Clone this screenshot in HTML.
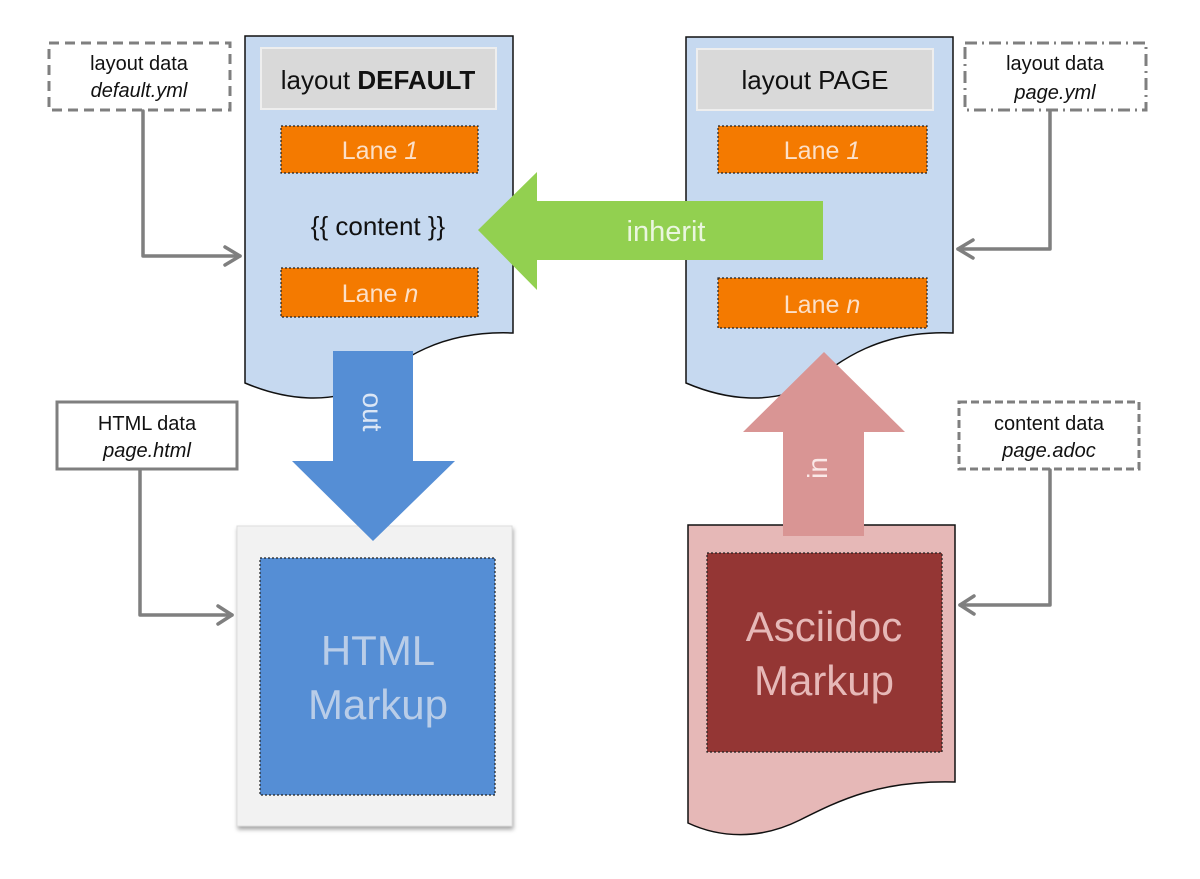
<!DOCTYPE html>
<html><head><meta charset="utf-8"><style>
html,body{margin:0;padding:0;background:#fff;}
svg{display:block;font-family:"Liberation Sans",Roboto,sans-serif;}
</style></head><body>
<svg width="1200" height="879" viewBox="0 0 1200 879" xmlns="http://www.w3.org/2000/svg">
<defs>
<filter id="sh" x="-10%" y="-10%" width="130%" height="130%"><feDropShadow dx="1" dy="3" stdDeviation="2" flood-color="#000" flood-opacity="0.35"/></filter>
</defs>
<path d="M245,36 L513,36 L513,333 C440,330 400,360 370,385 C330,405 285,400 245,383 Z" fill="#c6d9f0" stroke="#111" stroke-width="1.5"/>
<rect x="261" y="48" width="235" height="61" fill="#d9d9d9" stroke="#eee" stroke-width="2"/>
<text x="378" y="89" font-size="26" text-anchor="middle" fill="#111">layout <tspan font-weight="bold">DEFAULT</tspan></text>
<rect x="281" y="126" width="197" height="47" fill="#f47a00" stroke="#222" stroke-width="1.2" stroke-dasharray="2,2"/>
<text x="380" y="159" font-size="25" text-anchor="middle" fill="#fce0c8">Lane <tspan font-style="italic">1</tspan></text>
<text x="378" y="235" font-size="26" text-anchor="middle" fill="#111">{{ content }}</text>
<rect x="281" y="268" width="197" height="49" fill="#f47a00" stroke="#222" stroke-width="1.2" stroke-dasharray="2,2"/>
<text x="380" y="302" font-size="25" text-anchor="middle" fill="#fce0c8">Lane <tspan font-style="italic">n</tspan></text>

<path d="M686,37 L953,37 L953,333 C880,330 840,360 810,385 C770,405 726,400 686,383 Z" fill="#c6d9f0" stroke="#111" stroke-width="1.5"/>
<rect x="697" y="49" width="236" height="61" fill="#d9d9d9" stroke="#eee" stroke-width="2"/>
<text x="815" y="89" font-size="26" text-anchor="middle" fill="#111">layout PAGE</text>
<rect x="718" y="126" width="209" height="47" fill="#f47a00" stroke="#222" stroke-width="1.2" stroke-dasharray="2,2"/>
<text x="822" y="159" font-size="25" text-anchor="middle" fill="#fce0c8">Lane <tspan font-style="italic">1</tspan></text>
<rect x="718" y="278" width="209" height="50" fill="#f47a00" stroke="#222" stroke-width="1.2" stroke-dasharray="2,2"/>
<text x="822" y="313" font-size="25" text-anchor="middle" fill="#fce0c8">Lane <tspan font-style="italic">n</tspan></text>

<polygon points="478,230 537,172 537,201 823,201 823,260 537,260 537,290" fill="#92d050"/>
<text x="666" y="241" font-size="29" text-anchor="middle" fill="#eaf6df">inherit</text>

<path d="M688,525 L955,525 L955,782 C880,780 840,800 800,820 C760,840 720,838 688,823 Z" fill="#e6b8b7" stroke="#111" stroke-width="1.5"/>
<rect x="707" y="553" width="235" height="199" fill="#943634" stroke="#222" stroke-width="1.2" stroke-dasharray="2,2"/>
<text x="824" y="641" font-size="42" text-anchor="middle" fill="#e6b8b7">Asciidoc</text>
<text x="824" y="695" font-size="42" text-anchor="middle" fill="#e6b8b7">Markup</text>

<polygon points="824,352 905,432 864,432 864,536 783,536 783,432 743,432" fill="#d99594"/>
<text transform="translate(827,468) rotate(-90)" font-size="28" text-anchor="middle" fill="#fbe9e8">in</text>

<rect x="237" y="526" width="275" height="300" fill="#f2f2f2" stroke="#ddd" filter="url(#sh)"/>
<rect x="260" y="558" width="235" height="237" fill="#558ed5" stroke="#222" stroke-width="1.2" stroke-dasharray="2,2"/>
<text x="378" y="665" font-size="42" text-anchor="middle" fill="#b9cde8">HTML</text>
<text x="378" y="719" font-size="42" text-anchor="middle" fill="#b9cde8">Markup</text>

<polygon points="333,351 413,351 413,461 455,461 373,541 292,461 333,461" fill="#558ed5"/>
<text transform="translate(363,412) rotate(90)" font-size="28" text-anchor="middle" fill="#dbe6f5">out</text>

<g fill="#fff" stroke="#7f7f7f" stroke-width="3">
<rect x="49" y="43" width="181" height="67" stroke-dasharray="10,6"/>
<rect x="965" y="43" width="181" height="67" stroke-dasharray="12,5,2,5"/>
<rect x="57" y="402" width="180" height="67"/>
<rect x="959" y="402" width="180" height="67" stroke-dasharray="8,4"/>
</g>
<g font-size="20" text-anchor="middle" fill="#111">
<text x="139" y="70">layout data</text>
<text x="139" y="97" font-style="italic">default.yml</text>
<text x="1055" y="70">layout data</text>
<text x="1055" y="99" font-style="italic">page.yml</text>
<text x="147" y="430">HTML data</text>
<text x="147" y="457" font-style="italic">page.html</text>
<text x="1049" y="430">content data</text>
<text x="1049" y="457" font-style="italic">page.adoc</text>
</g>

<g fill="none" stroke="#7f7f7f" stroke-width="3.5" stroke-linejoin="round" stroke-linecap="round">
<path d="M143,111 L143,256 L240,256"/><path d="M225,247 L240,256 L225,265"/>
<path d="M1050,111 L1050,249 L958,249"/><path d="M973,240 L958,249 L973,258"/>
<path d="M140,470 L140,615 L232,615"/><path d="M218,606 L232,615 L218,624"/>
<path d="M1050,470 L1050,605 L960,605"/><path d="M974,596 L960,605 L974,614"/>
</g>
</svg>
</body></html>
